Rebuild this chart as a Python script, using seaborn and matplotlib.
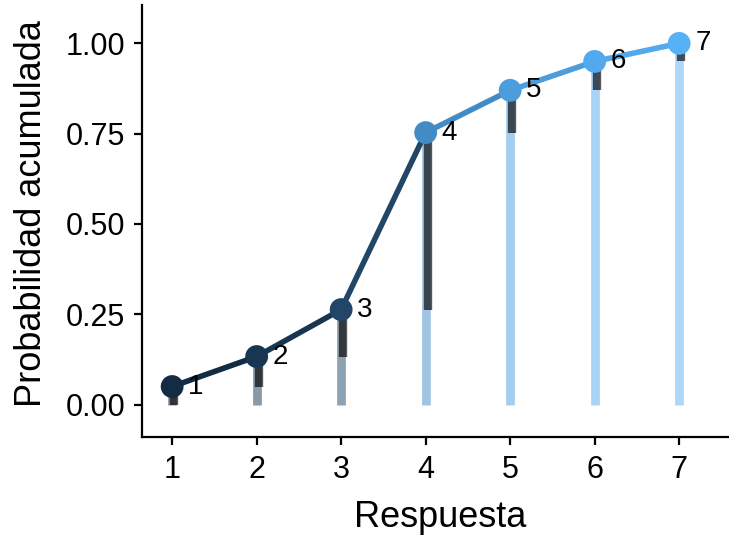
import numpy as np
import pandas as pd
import matplotlib
matplotlib.use("Agg")
import matplotlib.pyplot as plt
from matplotlib.colors import ListedColormap, Normalize
import seaborn as sns

# Response categories and their cumulative probabilities
respuestas = [1, 2, 3, 4, 5, 6, 7]
prob_acumulada = [0.05, 0.133, 0.263, 0.753, 0.870, 0.950, 1.000]
etiquetas = ["1", "2", "3", "4", "5", "6", "7"]
y_ticks = [0.00, 0.25, 0.50, 0.75, 1.00]

FONT = ["Liberation Sans", "DejaVu Sans"]


def _srgb_to_lab(hexcol):
    rgb = np.array([int(hexcol[i:i + 2], 16) / 255 for i in (1, 3, 5)])
    lin = np.where(rgb <= 0.04045, rgb / 12.92, ((rgb + 0.055) / 1.055) ** 2.4)
    M = np.array([[0.4124564, 0.3575761, 0.1804375],
                  [0.2126729, 0.7151522, 0.0721750],
                  [0.0193339, 0.1191920, 0.9503041]])
    xyz = M @ lin / np.array([0.95047, 1.0, 1.08883])
    f = np.where(xyz > 0.008856, np.cbrt(xyz), 7.787 * xyz + 16 / 116)
    return np.array([116 * f[1] - 16, 500 * (f[0] - f[1]), 200 * (f[1] - f[2])])


def _lab_to_srgb(lab):
    fy = (lab[0] + 16) / 116
    fx = fy + lab[1] / 500
    fz = fy - lab[2] / 200
    f = np.array([fx, fy, fz])
    xyz = np.where(f ** 3 > 0.008856, f ** 3, (f - 16 / 116) / 7.787)
    xyz = xyz * np.array([0.95047, 1.0, 1.08883])
    Minv = np.array([[3.2404542, -1.5371385, -0.4985314],
                     [-0.9692660, 1.8760108, 0.0415560],
                     [0.0556434, -0.2040259, 1.0572252]])
    lin = np.clip(Minv @ xyz, 0, 1)
    rgb = np.where(lin <= 0.0031308, 12.92 * lin, 1.055 * lin ** (1 / 2.4) - 0.055)
    return np.clip(rgb, 0, 1)


# Sequential blue gradient interpolated in Lab space
lab_lo = _srgb_to_lab("#132B43")
lab_hi = _srgb_to_lab("#56B1F7")
grad = ListedColormap([_lab_to_srgb(lab_lo + t * (lab_hi - lab_lo))
                       for t in np.linspace(0, 1, 256)])
norm = Normalize(min(prob_acumulada), max(prob_acumulada))

df = pd.DataFrame({"Respuesta": respuestas, "Prob": prob_acumulada})
df["Previa"] = [0.0] + prob_acumulada[:-1]

sns.set_style("white")
plt.rcParams["font.family"] = FONT
plt.rcParams["text.color"] = "black"
plt.rcParams["axes.labelcolor"] = "black"
plt.rcParams["xtick.color"] = "black"
plt.rcParams["ytick.color"] = "black"

fig = plt.figure(figsize=(7.29, 5.45), dpi=100)
ax = fig.add_axes([0.195, 0.198, 0.805, 0.792])

# Light bars from zero up to the cumulative probability
for x, p in zip(df["Respuesta"], df["Prob"]):
    ax.vlines(x, 0, p, colors=[grad(norm(p))], linewidth=6.3, alpha=0.5,
              zorder=1)

# Dark bars showing each category's own probability
for x, lo, hi in zip(df["Respuesta"], df["Previa"], df["Prob"]):
    ax.vlines(x + 0.025, lo, hi, colors="black", linewidth=6.0, alpha=0.65,
              zorder=2)

# Connecting line, each segment coloured by its starting point
for i in range(len(df) - 1):
    ax.plot(df["Respuesta"].iloc[i:i + 2], df["Prob"].iloc[i:i + 2],
            color=grad(norm(df["Prob"].iloc[i])), linewidth=4.0,
            solid_capstyle="butt", zorder=3)

sns.scatterplot(data=df, x="Respuesta", y="Prob", hue="Prob", palette=grad,
                hue_norm=norm, s=270, edgecolor="none", legend=False,
                ax=ax, zorder=4)

for x, p, lab in zip(df["Respuesta"], df["Prob"], etiquetas):
    ax.text(x + 0.19, p, lab, ha="left", va="center", fontsize=20,
            color="black", family=FONT, zorder=5)

ax.set_xlim(0.645, 7.59)
ax.set_ylim(-0.09, 1.105)
ax.set_xticks(respuestas)
ax.set_xticklabels([str(r) for r in respuestas])
ax.set_yticks(y_ticks)
ax.set_yticklabels([f"{t:.2f}" for t in y_ticks])
for lbl in ax.get_xticklabels() + ax.get_yticklabels():
    lbl.set_family(FONT)
    lbl.set_fontsize(22)
    lbl.set_color("black")

ax.set_xlabel("Respuesta", fontsize=26, family=FONT, color="black")
ax.set_ylabel("Probabilidad acumulada", fontsize=26, family=FONT,
              color="black")
ax.xaxis.set_label_coords(0.508, -0.146)
ax.yaxis.set_label_coords(-0.158, 0.518)

for side in ("top", "right"):
    ax.spines[side].set_visible(False)
for side in ("left", "bottom"):
    ax.spines[side].set_linewidth(1.6)
    ax.spines[side].set_color("black")
ax.tick_params(axis="both", direction="out", length=5.5, width=1.6,
               colors="black", left=True, bottom=True)
ax.tick_params(axis="x", pad=7.5)
ax.tick_params(axis="y", pad=6.5)
ax.grid(False)
ax.set_facecolor("white")

fig.savefig("out.png", dpi=100, facecolor="white")
